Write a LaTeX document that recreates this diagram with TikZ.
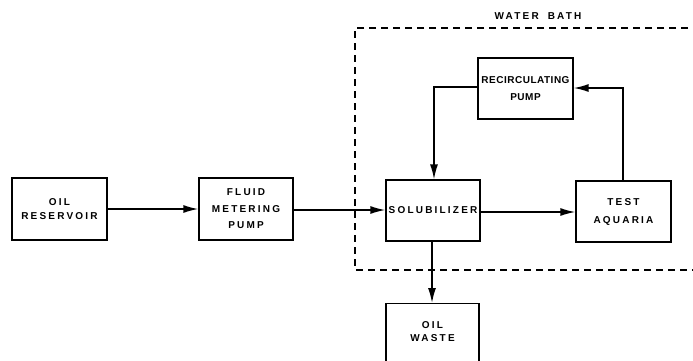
\documentclass[tikz,border=0pt]{standalone}
\usepackage{fontspec}
\usetikzlibrary{arrows.meta}
\newfontfamily\lblfont[LetterSpace=22]{Liberation Sans}
\newfontfamily\tightfont[LetterSpace=5]{Liberation Sans}
\begin{document}
\begin{tikzpicture}[x=1pt,y=-1pt,
  blk/.style={draw,line width=1.2pt,inner sep=0pt,align=center,
    font=\lblfont\bfseries\fontsize{10}{15}\selectfont},
  flow/.style={line width=1.6pt,-{Latex[length=15pt,width=8pt]}},
  plain/.style={line width=1.6pt}]
\useasboundingbox (0,0) rectangle (693,360);
\clip (0,0) rectangle (693,360);
% dashed water bath
\draw[line width=1.3pt,dash pattern=on 7pt off 5pt] (700,28) -- (355,28) -- (355,270) -- (700,270);
\node[font=\lblfont\bfseries\fontsize{10}{12}\selectfont] (wb) at (538,16) {WATER\hspace{9pt}BATH};
% boxes
\node[blk,minimum width=95pt,minimum height=62pt,font=\lblfont\bfseries\fontsize{10}{14}\selectfont] (res) at (59.5,209) {OIL\\RESERVOIR};
\node[blk,minimum width=94pt,minimum height=62pt,font=\lblfont\bfseries\fontsize{10}{16.5}\selectfont] (pump) at (246,209) {FLUID\\METERING\\PUMP};
\node[blk,minimum width=94pt,minimum height=61pt] (sol) at (433,210.5) {SOLUBILIZER};
\node[blk,minimum width=95pt,minimum height=61pt,font=\lblfont\bfseries\fontsize{10}{18}\selectfont] (aq) at (623.5,211.5) {TEST\\AQUARIA};
\node[blk,minimum width=95pt,minimum height=61pt,font=\tightfont\bfseries\fontsize{10}{17}\selectfont] (rec) at (525.5,88.5) {RECIRCULATING\\PUMP};
\node[blk,minimum width=93pt,minimum height=70pt,anchor=north,text depth=14pt,font=\lblfont\bfseries\fontsize{10}{12.5}\selectfont] (waste) at (432.5,303) {OIL\\WASTE};
% connectors
\draw[flow] (res.east |- 0,209) -- (pump.west |- 0,209);
\draw[flow] (pump.east |- 0,210) -- (sol.west |- 0,210);
\draw[flow] (sol.east |- 0,212) -- (aq.west |- 0,212);
\coordinate (c1) at (623,88);
\coordinate (c2) at (434,87);
\draw[flow] (aq.north -| c1) -- (c1) -- (rec.east |- c1);
\draw[flow] (rec.west |- c2) -- (c2) -- (sol.north -| c2);
\draw[flow] (sol.south -| 432,0) -- (waste.north -| 432,0);
\end{tikzpicture}
\end{document}
